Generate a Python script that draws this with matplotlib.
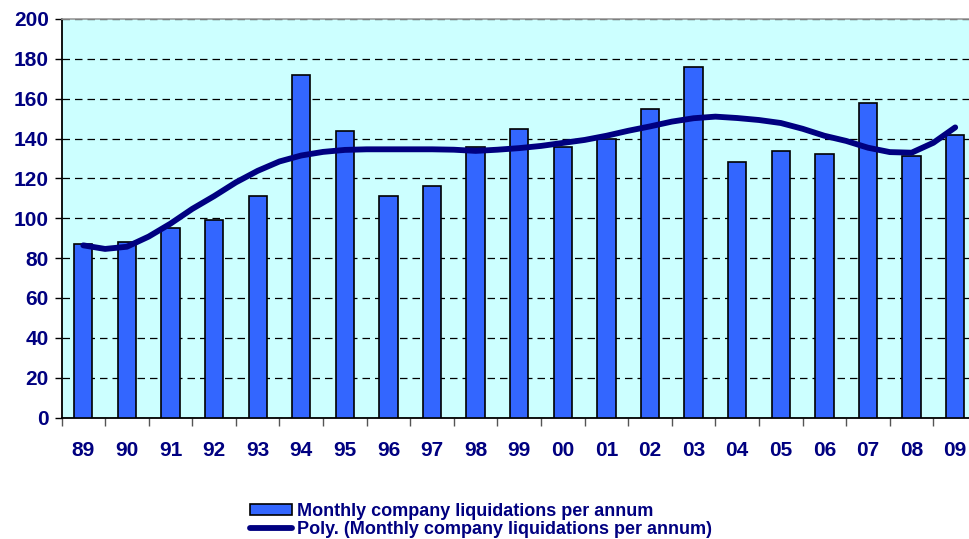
import numpy as np
import matplotlib
matplotlib.use("Agg")
import matplotlib.pyplot as plt
from matplotlib.patches import Patch
from matplotlib.lines import Line2D

# years on the x axis
years = ["89", "90", "91", "92", "93", "94", "95", "96", "97", "98", "99",
         "00", "01", "02", "03", "04", "05", "06", "07", "08", "09"]

# bar heights
liquidations = [87, 88, 95, 99, 111, 172, 144, 111, 116, 136, 145,
                136, 140, 155, 176, 128, 134, 132, 158, 131, 142]

# polynomial trend line, read at each year and half year
trend_pos = [0, 0.5, 1, 1.5, 2, 2.5, 3, 3.5, 4, 4.5, 5, 5.5, 6, 6.5, 7, 7.5,
             8, 8.5, 9, 9.5, 10, 10.5, 11, 11.5, 12, 12.5, 13, 13.5, 14, 14.5,
             15, 15.5, 16, 16.5, 17, 17.5, 18, 18.5, 19, 19.5, 20]
trend_vals = [86.4, 84.6, 85.7, 90.8, 97.3, 104.7, 111.1, 118.0, 123.8, 128.5,
              131.5, 133.3, 134.3, 134.6, 134.6, 134.6, 134.6, 134.4, 133.8,
              134.4, 135.2, 136.3, 137.8, 139.3, 141.4, 143.9, 146.1, 148.5,
              150.2, 151.0, 150.3, 149.3, 147.8, 144.9, 141.4, 138.8, 135.4,
              133.2, 132.9, 137.9, 145.6]

yticks = [0, 20, 40, 60, 80, 100, 120, 140, 160, 180, 200]

navy = "#000080"
bar_blue = "#3366FF"
plot_bg = "#CCFFFF"

plt.rcParams["font.family"] = ["Liberation Sans", "DejaVu Sans"]

fig = plt.figure(figsize=(9.69, 5.39), dpi=100, facecolor="white")
W, H = 969.0, 539.0
left, right, top, bottom = 61.5, 977.0, 19.0, 417.5
ax = fig.add_axes([left / W, (H - bottom) / H, (right - left) / W, (bottom - top) / H])
ax.set_facecolor(plot_bg)

x = np.arange(len(years))
ax.bar(x, liquidations, width=0.42, color=bar_blue, edgecolor="black", linewidth=1.2, zorder=3)
ax.plot(trend_pos, trend_vals, color=navy, linewidth=4.2, solid_capstyle="round",
        solid_joinstyle="round", zorder=4)

ax.set_xlim(-0.5, len(years) - 0.5)
ax.set_ylim(0, 200)

# y axis
ax.set_yticks(yticks)
ax.set_yticklabels([str(v) for v in yticks], fontsize=15, fontweight="bold", color=navy)
ax.tick_params(axis="y", direction="out", length=5, width=1, color="black", pad=4)
ax.yaxis.grid(True, color="black", linestyle=(0, (6, 4)), linewidth=0.9, zorder=1)
ax.set_axisbelow(True)

# x axis: tick marks between categories, labels at centres
ax.set_xticks(np.arange(-0.5, len(years) + 0.5, 1.0))
ax.set_xticklabels([])
ax.set_xticks(x, minor=True)
ax.set_xticklabels(years, minor=True, fontsize=15, fontweight="bold", color=navy)
ax.tick_params(axis="x", which="major", direction="out", length=6, width=1, color="#555555")
ax.tick_params(axis="x", which="minor", length=0, pad=17)

for s in ["left", "bottom"]:
    ax.spines[s].set_color("black")
    ax.spines[s].set_linewidth(1.3)
ax.spines["top"].set_color("#999999")
ax.spines["top"].set_linewidth(1.2)
ax.spines["right"].set_visible(False)

handles = [Patch(facecolor=bar_blue, edgecolor="black", linewidth=1.2),
           Line2D([0], [0], color=navy, linewidth=4.2, solid_capstyle="round")]
labels = ["Monthly company liquidations per annum",
          "Poly. (Monthly company liquidations per annum)"]
fig.legend(handles, labels, loc="upper left", bbox_to_anchor=(250 / W, 1 - 503 / H),
           frameon=False, prop={"size": 13, "weight": "bold"}, labelcolor=navy,
           handlelength=2.3, handleheight=0.6, handletextpad=0.3, labelspacing=0.05,
           borderpad=0, borderaxespad=0)

fig.savefig("out.png", dpi=100, facecolor="white")
